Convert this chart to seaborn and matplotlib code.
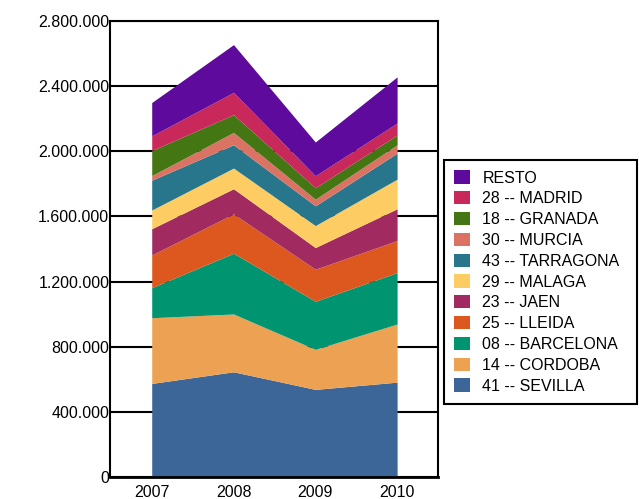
import matplotlib
matplotlib.use("Agg")
import matplotlib.pyplot as plt
import seaborn as sns
import pandas as pd
from matplotlib.patches import Patch
from matplotlib.ticker import FuncFormatter

# DATA (units)
years = [2007, 2008, 2009, 2010]
sevilla = [574500, 646000, 538000, 582500]
cordoba = [403500, 355000, 246000, 357000]
barcelona = [184500, 373000, 295000, 315500]
lleida = [201000, 242000, 197000, 197000]
jaen = [161000, 154000, 133000, 195000]
malaga = [115000, 127000, 135000, 182000]
tarragona = [183000, 143000, 121000, 160000]
murcia = [28500, 76000, 41000, 51000]
granada = [153500, 109000, 70000, 60000]
madrid = [90500, 137000, 74000, 74000]
resto = [204500, 293000, 207000, 283000]

series_names = ["41 -- SEVILLA", "14 -- CORDOBA", "08 -- BARCELONA", "25 -- LLEIDA",
                "23 -- JAEN", "29 -- MALAGA", "43 -- TARRAGONA", "30 -- MURCIA",
                "18 -- GRANADA", "28 -- MADRID", "RESTO"]
colors = ["#3c6698", "#eda253", "#009570", "#dc581e", "#a12b61", "#fdcd63",
          "#27768c", "#db7365", "#457614", "#c8285a", "#5e0a9c"]

df = pd.DataFrame(dict(zip(series_names, [sevilla, cordoba, barcelona, lleida, jaen,
                                          malaga, tarragona, murcia, granada, madrid, resto])),
                  index=years)

sns.set_style("white")
plt.rcParams['font.family'] = ['Liberation Sans', 'DejaVu Sans']
plt.rcParams['text.color'] = 'black'

fig = plt.figure(figsize=(6.39, 4.99), dpi=100)
ax = fig.add_axes([110 / 639, 22 / 499, 328 / 639, 456 / 499])

ax.stackplot(df.index, [df[c] for c in series_names], colors=colors, lw=0, zorder=2)

ax.set_xlim(2006.49, 2010.50)
ax.set_ylim(0, 2800000)
ax.set_yticks(range(0, 2800001, 400000))
ax.set_xticks(years)
ax.yaxis.set_major_formatter(FuncFormatter(lambda v, p: f"{int(v):,}".replace(",", ".")))
ax.grid(axis='y', color='black', lw=1.5, zorder=0)
ax.set_axisbelow(True)
for s in ax.spines.values():
    s.set_color('black')
    s.set_linewidth(1.5)
ax.spines['bottom'].set_linewidth(2)
ax.tick_params(axis='both', length=0, labelsize=11.5, colors='black')
ax.tick_params(axis='y', pad=0.5)
ax.tick_params(axis='x', pad=6)

# legend box spans a fixed region at the right
handles = [Patch(facecolor=c, edgecolor='none') for c in colors][::-1]
leg = fig.legend(handles, series_names[::-1], loc='upper left',
                 bbox_to_anchor=(444 / 639, 93 / 499, 193 / 639, 246 / 499), mode='expand',
                 frameon=True, fontsize=11.5, handlelength=1.0, handleheight=0.9,
                 labelspacing=0.355, borderpad=0.65, borderaxespad=0,
                 handletextpad=0.75, fancybox=False, labelcolor='black', framealpha=1)
leg.get_frame().set_edgecolor('black')
leg.get_frame().set_linewidth(1.5)

fig.savefig("out.png", dpi=100)
